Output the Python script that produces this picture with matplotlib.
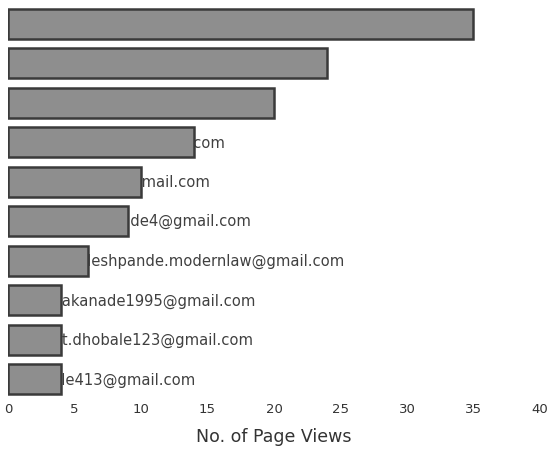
import matplotlib
matplotlib.use("Agg")
import matplotlib.pyplot as plt

# ── Data ──────────────────────────────────────────────────────────────────────
users = [
    "anil.kulkarni@gmail.com",
    "priya.joshi@gmail.com",
    "rahul.patil@gmail.com",
    "vinayak.shinde1@gmail.com",
    "sachin_jadhav@gmail.com",
    "mahesh_gaikwade4@gmail.com",
    "prashant.deshpande.modernlaw@gmail.com",
    "swati.rakanade1995@gmail.com",
    "sumeet.dhobale123@gmail.com",
    "i.kamble413@gmail.com",
]
page_views = [35, 24, 20, 14, 10, 9, 6, 4, 4, 4]
x_ticks = [0, 5, 10, 15, 20, 25, 30, 35, 40]

plt.rcParams["font.family"] = ["DejaVu Sans"]

fig = plt.figure(figsize=(5.49, 4.52), dpi=100)
ax = fig.add_axes([0.0146, 0.115, 0.969, 0.874])

ypos = list(range(len(users)))
ax.barh(ypos, page_views, height=0.76, color="#8e8e8e", edgecolor="#3a3a3a",
        linewidth=1.8, zorder=3)

# labels sit under the bars, only the part past the bar end shows
for y, name in zip(ypos, users):
    ax.text(0.3, y, name, va="center", ha="left", fontsize=10.6,
            color="#404040", zorder=2)

ax.set_ylim(len(users) - 0.5, -0.5)
ax.set_xlim(0, 40)
ax.set_xticks(x_ticks)
ax.set_xticklabels([str(t) for t in x_ticks], fontsize=9.5, color="#333333")
ax.set_yticks([])
ax.tick_params(axis="x", length=0, pad=2)
for side in ["top", "right", "left", "bottom"]:
    ax.spines[side].set_visible(False)
ax.set_xlabel("No. of Page Views", fontsize=12.5, color="#333333", labelpad=9)

fig.savefig("out.png", dpi=100)
plt.close(fig)
